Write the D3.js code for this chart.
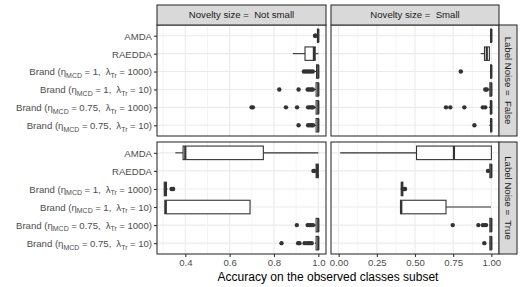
<!DOCTYPE html>
<html>
<head>
<meta charset="utf-8">
<script src="https://cdn.jsdelivr.net/npm/d3@7"></script>
<style>
  body { margin: 0; background: #fff; }
  svg { font-family: "Liberation Sans", Arial, sans-serif; }
</style>
</head>
<body>
<div id="chart"></div>
<script>
// categories (top to bottom)
var methods = ["AMDA", "RAEDDA", "B1_1000", "B1_10", "B075_1000", "B075_10"];
var methodEta = [null, null, "1", "1", "0.75", "0.75"];
var methodLambda = [null, null, "1000", "10", "1000", "10"];
var noveltyLevels = ["Not small", "Small"];
var noiseLevels = ["False", "True"];

// tick labels per column
var ticksNotSmall = [0.4, 0.6, 0.8, 1.0];
var ticksSmall = [0, 0.25, 0.5, 0.75, 1.0];

// box stats [min, q1, median, q3, max], one per method
var boxNotSmallFalse = [
  [0.99, 0.996, 1.0, 1.0, 1.0],
  [0.885, 0.94, 0.98, 0.986, 1.0],
  [0.985, 0.992, 1.0, 1.0, 1.0],
  [0.98, 0.99, 1.0, 1.0, 1.0],
  [0.98, 0.99, 1.0, 1.0, 1.0],
  [0.98, 0.99, 1.0, 1.0, 1.0]
];
var outNotSmallFalse = [
  [0.985, 0.988],
  [],
  [0.935, 0.945, 0.955, 0.965, 0.975],
  [0.824, 0.911, 0.952, 0.96, 0.968, 0.975],
  [0.699, 0.705, 0.854, 0.904, 0.954, 0.962, 0.97, 0.976],
  [0.911, 0.954, 0.962, 0.97, 0.976]
];
var boxSmallFalse = [
  [0.99, 0.995, 1.0, 1.0, 1.0],
  [0.93, 0.955, 0.97, 0.987, 0.99],
  [0.99, 0.995, 1.0, 1.0, 1.0],
  [0.975, 0.99, 1.0, 1.0, 1.0],
  [0.985, 0.993, 1.0, 1.0, 1.0],
  [0.985, 0.995, 1.0, 1.0, 1.0]
];
var outSmallFalse = [
  [],
  [],
  [0.80],
  [0.96, 0.97],
  [0.703, 0.731, 0.823, 0.944, 0.96],
  [0.889]
];
var boxNotSmallTrue = [
  [0.355, 0.39, 0.40, 0.752, 1.0],
  [0.985, 0.99, 0.995, 1.0, 1.0],
  [0.303, 0.305, 0.31, 0.315, 0.32],
  [0.307, 0.308, 0.312, 0.692, 0.692],
  [0.985, 0.99, 1.0, 1.0, 1.0],
  [0.985, 0.99, 1.0, 1.0, 1.0]
];
var outNotSmallTrue = [
  [],
  [0.978, 0.982],
  [0.338, 0.345],
  [],
  [0.903, 0.952, 0.96, 0.968, 0.976],
  [0.834, 0.909, 0.915, 0.938, 0.95, 0.96, 0.97]
];
var boxSmallTrue = [
  [0.01, 0.51, 0.755, 1.0, 1.0],
  [0.985, 0.99, 1.0, 1.0, 1.0],
  [0.405, 0.41, 0.415, 0.42, 0.425],
  [0.404, 0.405, 0.41, 0.703, 0.998],
  [0.985, 0.99, 1.0, 1.0, 1.0],
  [0.985, 0.99, 1.0, 1.0, 1.0]
];
var outSmallTrue = [
  [],
  [0.978],
  [0.43, 0.435],
  [],
  [0.747, 0.915, 0.944, 0.955, 0.965],
  [0.954]
];

var W = 522, H = 287;
var colX = [[157, 326], [331, 499]];
var rowY = [[25, 136], [142, 254]];
var stripTop = 5, stripRightW = 18;
var dark = "#333333";

var svg = d3.select("#chart").append("svg")
  .attr("width", W).attr("height", H);

// x scales (free per column), with 5% expansion like ggplot
function expanded(lo, hi) {
  var d = (hi - lo) * 0.05;
  return [lo - d, hi + d];
}
var xScales = [
  d3.scaleLinear().domain(expanded(0.307, 1.0)).range(colX[0]),
  d3.scaleLinear().domain(expanded(0.0, 1.0)).range(colX[1])
];
var colTicks = [ticksNotSmall, ticksSmall];
var colFormat = [d3.format(".1f"), d3.format(".2f")];

var panels = [
  { col: 0, row: 0, box: boxNotSmallFalse, out: outNotSmallFalse },
  { col: 1, row: 0, box: boxSmallFalse, out: outSmallFalse },
  { col: 0, row: 1, box: boxNotSmallTrue, out: outNotSmallTrue },
  { col: 1, row: 1, box: boxSmallTrue, out: outSmallTrue }
];

panels.forEach(function (p) {
  var x = xScales[p.col];
  var y = d3.scalePoint().domain(methods).range(rowY[p.row]).padding(0.6);
  var bw = y.step() * 0.75;
  var g = svg.append("g");
  var x0 = colX[p.col][0], x1 = colX[p.col][1];
  var y0 = rowY[p.row][0], y1 = rowY[p.row][1];

  // minor grid
  var t = colTicks[p.col];
  var minor = [];
  var stepT = t[1] - t[0];
  for (var i = -1; i < t.length; i++) {
    var m = t[0] + stepT * (i + 0.5);
    if (x(m) > x0 && x(m) < x1) minor.push(m);
  }
  g.selectAll(".minor").data(minor).enter().append("line")
    .attr("x1", d => x(d)).attr("x2", d => x(d))
    .attr("y1", y0).attr("y2", y1)
    .attr("stroke", "#ebebeb").attr("stroke-width", 0.6);
  // major grid
  g.selectAll(".majx").data(t).enter().append("line")
    .attr("x1", d => x(d)).attr("x2", d => x(d))
    .attr("y1", y0).attr("y2", y1)
    .attr("stroke", "#ebebeb").attr("stroke-width", 1.1);
  g.selectAll(".majy").data(methods).enter().append("line")
    .attr("x1", x0).attr("x2", x1)
    .attr("y1", d => y(d)).attr("y2", d => y(d))
    .attr("stroke", "#ebebeb").attr("stroke-width", 1.1);

  // boxplots
  methods.forEach(function (mth, k) {
    var s = p.box[k];
    var cy = y(mth);
    g.append("line")
      .attr("x1", x(s[0])).attr("x2", x(s[1]))
      .attr("y1", cy).attr("y2", cy)
      .attr("stroke", dark).attr("stroke-width", 1.1);
    g.append("line")
      .attr("x1", x(s[3])).attr("x2", x(s[4]))
      .attr("y1", cy).attr("y2", cy)
      .attr("stroke", dark).attr("stroke-width", 1.1);
    g.append("rect")
      .attr("x", x(s[1])).attr("width", Math.max(0, x(s[3]) - x(s[1])))
      .attr("y", cy - bw / 2).attr("height", bw)
      .attr("fill", "#fff").attr("stroke", dark).attr("stroke-width", 1.1);
    g.append("line")
      .attr("x1", x(s[2])).attr("x2", x(s[2]))
      .attr("y1", cy - bw / 2).attr("y2", cy + bw / 2)
      .attr("stroke", dark).attr("stroke-width", 2.2);
    g.selectAll(null).data(p.out[k]).enter().append("circle")
      .attr("cx", d => x(d)).attr("cy", cy).attr("r", 2.2)
      .attr("fill", dark);
  });

  // panel border
  g.append("rect")
    .attr("x", x0).attr("y", y0).attr("width", x1 - x0).attr("height", y1 - y0)
    .attr("fill", "none").attr("stroke", dark).attr("stroke-width", 1.1);

  // y axis (left column only)
  if (p.col === 0) {
    var ya = svg.append("g")
      .attr("transform", "translate(" + x0 + ",0)")
      .call(d3.axisLeft(y).tickSize(3).tickPadding(2).tickFormat(""));
    ya.select(".domain").remove();
    ya.selectAll(".tick line").attr("stroke", dark).attr("stroke-width", 1.1);
    ya.selectAll(".tick").each(function (d, k) {
      var txt = d3.select(this).append("text")
        .attr("x", -5).attr("dy", "0.35em")
        .attr("text-anchor", "end")
        .attr("fill", "#4d4d4d")
        .style("font-size", "9.6px").style("white-space", "pre");
      if (methodEta[k] === null) {
        txt.text(d);
      } else {
        txt.append("tspan").text("Brand (\u03b7");
        txt.append("tspan").attr("dy", 2.5).style("font-size", "7px").text("MCD");
        txt.append("tspan").attr("dy", -2.5).attr("dx", 2.5).text("=");
        txt.append("tspan").attr("dx", 2.5).text(methodEta[k] + ",");
        txt.append("tspan").attr("dx", 5).text("\u03bb");
        txt.append("tspan").attr("dy", 2.5).style("font-size", "7px").text("Tr");
        txt.append("tspan").attr("dy", -2.5).attr("dx", 2.5).text("=");
        txt.append("tspan").attr("dx", 2.5).text(methodLambda[k] + ")");
      }
    });
  }

  // x axis (bottom row only)
  if (p.row === 1) {
    var xa = svg.append("g")
      .attr("transform", "translate(0," + y1 + ")")
      .call(d3.axisBottom(x).tickValues(t).tickSize(3).tickPadding(2)
        .tickFormat(colFormat[p.col]));
    xa.select(".domain").remove();
    xa.selectAll(".tick line").attr("stroke", dark).attr("stroke-width", 1.1);
    xa.selectAll(".tick text").attr("fill", "#4d4d4d")
      .style("font-size", "9.6px").style("font-family", "Liberation Sans, Arial, sans-serif");
  }
});

// top strips
noveltyLevels.forEach(function (lv, c) {
  var x0 = colX[c][0], x1 = colX[c][1];
  svg.append("rect")
    .attr("x", x0).attr("y", stripTop).attr("width", x1 - x0).attr("height", rowY[0][0] - stripTop)
    .attr("fill", "#d9d9d9").attr("stroke", dark).attr("stroke-width", 1.1);
  svg.append("text")
    .attr("x", (x0 + x1) / 2).attr("y", (stripTop + rowY[0][0]) / 2).attr("dy", "0.35em")
    .attr("text-anchor", "middle").attr("fill", "#1a1a1a")
    .style("font-size", "9.6px").style("white-space", "pre")
    .text("Novelty size =  " + lv);
});

// right strips
noiseLevels.forEach(function (lv, r) {
  var sx = colX[1][1];
  var y0 = rowY[r][0], y1 = rowY[r][1];
  svg.append("rect")
    .attr("x", sx).attr("y", y0).attr("width", stripRightW).attr("height", y1 - y0)
    .attr("fill", "#d9d9d9").attr("stroke", dark).attr("stroke-width", 1.1);
  svg.append("text")
    .attr("transform", "translate(" + (sx + stripRightW / 2) + "," + ((y0 + y1) / 2) + ") rotate(90)")
    .attr("dy", "0.35em")
    .attr("text-anchor", "middle").attr("fill", "#1a1a1a")
    .style("font-size", "9.6px").style("white-space", "pre")
    .text("Label Noise =  " + lv);
});

// x axis title
svg.append("text")
  .attr("x", (colX[0][0] + colX[1][1]) / 2).attr("y", 281)
  .attr("text-anchor", "middle").attr("fill", "#000")
  .style("font-size", "12px")
  .text("Accuracy on the observed classes subset");
</script>
</body>
</html>
